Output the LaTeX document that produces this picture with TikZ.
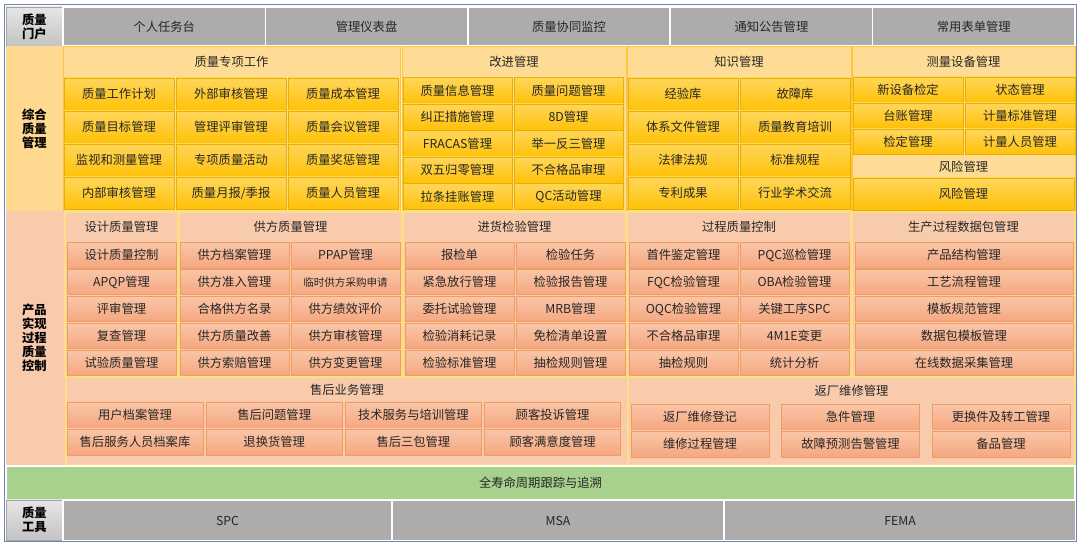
\documentclass[tikz,border=0pt]{standalone}
\usepackage{fontspec}
\newfontfamily\cjk{Noto Sans CJK SC}

\definecolor{portalgrey}{HTML}{AEABAB}
\definecolor{lgtop}{HTML}{E6E6E6}
\definecolor{lgbot}{HTML}{C3C3C3}
\definecolor{lgline}{HTML}{A6A6A6}
\definecolor{ylwbg}{HTML}{FFEFC8}
\definecolor{ylwlbl}{HTML}{FFD98F}
\definecolor{ylwhead}{HTML}{FFDC96}
\definecolor{ylwedge}{HTML}{FFC43A}
\definecolor{ylwtop}{HTML}{FFD65A}
\definecolor{ylwbot}{HTML}{FFC107}
\definecolor{ylwline}{HTML}{E9B000}
\definecolor{pchbg}{HTML}{F8CBAD}
\definecolor{pchedge}{HTML}{FFDF86}
\definecolor{pchtop}{HTML}{F9C6A8}
\definecolor{pchbot}{HTML}{F5A780}
\definecolor{pchline}{HTML}{F39B63}
\definecolor{tracegreen}{HTML}{A9D18E}
\definecolor{txt}{HTML}{262626}
\definecolor{framec}{HTML}{6D85B4}

% one box from its corners (x1,y1) to (x2,y2), in pixels
\newcommand\cell[7][box]{%
  \node[#1, minimum width={((#5)-(#3))*0.02cm}, minimum height={((#6)-(#4))*0.02cm}]
    (#2) at ({((#3)+(#5))/2},{((#4)+(#6))/2}) {#7};}

\begin{document}
\begin{tikzpicture}[x=0.02cm, y=-0.02cm,
    box/.style={inner sep=0pt, outer sep=0pt, align=center, text=txt,
      font=\cjk\fontsize{7}{8.4}\selectfont},
    lbl/.style={box, text=black, font=\cjk\bfseries\fontsize{7}{8}\selectfont},
    lblgrey/.style={lbl, top color=lgtop, bottom color=lgbot, draw=lgline, line width=0.4pt},
    lblylw/.style={lbl, fill=ylwlbl},
    lblpch/.style={lbl, fill=pchbg},
    portal/.style={box, fill=portalgrey, draw=white, line width=1pt},
    grpy/.style={box, fill=ylwhead, draw=ylwedge, line width=0.5pt},
    hdry/.style={box, fill=ylwhead},
    ylw/.style={box, top color=ylwtop, bottom color=ylwbot, draw=ylwline, line width=0.4pt},
    grpp/.style={box, fill=pchbg, draw=pchedge, line width=0.6pt},
    hdrp/.style={box},
    pch/.style={box, top color=pchtop, bottom color=pchbot, draw=pchline, line width=0.5pt},
    trace/.style={box, fill=tracegreen, draw=white, line width=0.6pt},
    frame/.style={draw=framec, line width=0.7pt}]
  \useasboundingbox (0,0) rectangle (1080,546);

  % 质量门户
  \cell[lblgrey]{portal}{6}{7}{63}{46}{质量\\门户}
  \foreach \t [count=\i from 0] in {个人任务台,管理仪表盘,质量协同监控,通知公告管理,常用表单管理}{
    \cell[portal]{p\i}{63+202.4*\i}{7}{63+202.4*(\i+1)}{46}{\t}}

  % 综合质量管理
  \fill[ylwbg] (6,46) rectangle (1075,211);
  \cell[lblylw]{zh}{6}{46}{63}{211}{综合\\质量\\管理}

  \cell[grpy]{zx}{63}{46}{400}{211}{}
  \cell[hdry]{zxh}{64}{47}{399}{77}{质量专项工作}
  \foreach \t [count=\i from 0] in {质量工作计划,外部审核管理,质量成本管理,
      质量目标管理,管理评审管理,质量会议管理,监视和测量管理,专项质量活动,质量奖惩管理,
      内部审核管理,{质量月报/季报},质量人员管理}{
    \pgfmathtruncatemacro\ci{mod(\i,3)}\pgfmathtruncatemacro\ri{\i/3}
    \cell[ylw]{zx\i}{64+112*\ci}{78+33*\ri}{174+112*\ci}{110.5+33*\ri}{\t}}

  \cell[grpy]{gj}{402}{46}{626}{211}{}
  \cell[hdry]{gjh}{403}{47}{625}{77}{改进管理}
  \foreach \t [count=\i from 0] in {质量信息管理,质量问题管理,纠正措施管理,8D管理,
      FRACAS管理,举一反三管理,双五归零管理,不合格品审理,拉条挂账管理,QC活动管理}{
    \pgfmathtruncatemacro\ci{mod(\i,2)}\pgfmathtruncatemacro\ri{\i/2}
    \cell[ylw]{gj\i}{403+111*\ci}{77.5+26.5*\ri}{512+111*\ci}{103.5+26.5*\ri}{\t}}

  \cell[grpy]{zs}{627}{46}{851}{211}{}
  \cell[hdry]{zsh}{628}{47}{850}{77}{知识管理}
  \foreach \t [count=\i from 0] in {经验库,故障库,体系文件管理,质量教育培训,
      法律法规,标准规程,专利成果,行业学术交流}{
    \pgfmathtruncatemacro\ci{mod(\i,2)}\pgfmathtruncatemacro\ri{\i/2}
    \cell[ylw]{zs\i}{628+112*\ci}{78+33*\ri}{738+112*\ci}{110.5+33*\ri}{\t}}

  \cell[grpy]{cl}{852}{46}{1075}{211}{}
  \cell[hdry]{clh}{853}{47}{1074}{77}{测量设备管理}
  \foreach \t [count=\i from 0] in {新设备检定,状态管理,台账管理,计量标准管理,检定管理,计量人员管理}{
    \pgfmathtruncatemacro\ci{mod(\i,2)}\pgfmathtruncatemacro\ri{\i/2}
    \cell[ylw]{cl\i}{853+112*\ci}{77+26*\ri}{963+112*\ci}{102.5+26*\ri}{\t}}
  \cell[hdry]{fxh}{853}{155}{1074}{178}{风险管理}
  \cell[ylw]{fx}{853}{178}{1074}{210}{风险管理}

  % 产品实现过程质量控制
  \fill[pchbg] (6,211) rectangle (1075,465);
  \cell[lblpch]{cp}{6}{211}{63}{465}{产品\\实现\\过程\\质量\\控制}

  \cell[grpp]{sj}{65}{212}{178}{377}{}
  \cell[hdrp]{sjh}{65}{212}{178}{242}{设计质量管理}
  \foreach \t [count=\i from 0] in {设计质量控制,APQP管理,评审管理,复查管理,试验质量管理}{
    \cell[pch]{sj\i}{67}{242.5+26.9*\i}{176}{268+26.9*\i}{\t}}

  \cell[grpp]{gf}{179}{212}{402}{377}{}
  \cell[hdrp]{gfh}{179}{212}{402}{242}{供方质量管理}
  \foreach \t [count=\i from 0] in {供方档案管理,PPAP管理,供方准入管理,
      {\fontsize{6}{7}\selectfont 临时供方采购申请},合格供方名录,供方绩效评价,
      供方质量改善,供方审核管理,供方索赔管理,供方变更管理}{
    \pgfmathtruncatemacro\ci{mod(\i,2)}\pgfmathtruncatemacro\ri{\i/2}
    \cell[pch]{gf\i}{180+111*\ci}{242.5+26.9*\ri}{289+111*\ci}{268+26.9*\ri}{\t}}

  \cell[grpp]{jh}{403}{212}{626}{377}{}
  \cell[hdrp]{jhh}{403}{212}{626}{242}{进货检验管理}
  \foreach \t [count=\i from 0] in {报检单,检验任务,紧急放行管理,检验报告管理,
      委托试验管理,MRB管理,检验消耗记录,免检清单设置,检验标准管理,抽检规则管理}{
    \pgfmathtruncatemacro\ci{mod(\i,2)}\pgfmathtruncatemacro\ri{\i/2}
    \cell[pch]{jh\i}{405+111*\ci}{242.5+26.9*\ri}{514+111*\ci}{268+26.9*\ri}{\t}}

  \cell[grpp]{gc}{627}{212}{851}{377}{}
  \cell[hdrp]{gch}{627}{212}{851}{242}{过程质量控制}
  \foreach \t [count=\i from 0] in {首件鉴定管理,PQC巡检管理,FQC检验管理,OBA检验管理,
      OQC检验管理,关键工序SPC,不合格品审理,4M1E变更,抽检规则,统计分析}{
    \pgfmathtruncatemacro\ci{mod(\i,2)}\pgfmathtruncatemacro\ri{\i/2}
    \cell[pch]{gc\i}{629+111*\ci}{242.5+26.9*\ri}{738+111*\ci}{268+26.9*\ri}{\t}}

  \cell[grpp]{sc}{852}{212}{1075}{377}{}
  \cell[hdrp]{sch}{852}{212}{1075}{242}{生产过程数据包管理}
  \foreach \t [count=\i from 0] in {产品结构管理,工艺流程管理,模板规范管理,数据包模板管理,在线数据采集管理}{
    \cell[pch]{sc\i}{855}{242.5+26.9*\i}{1073}{268+26.9*\i}{\t}}

  \cell[grpp]{sh}{66}{377}{628}{465}{}
  \cell[hdrp]{shh}{66}{378}{628}{402}{售后业务管理}
  \foreach \t [count=\i from 0] in {用户档案管理,售后问题管理,技术服务与培训管理,顾客投诉管理,
      售后服务人员档案库,退换货管理,售后三包管理,顾客满意度管理}{
    \pgfmathtruncatemacro\ci{mod(\i,4)}\pgfmathtruncatemacro\ri{\i/4}
    \cell[pch]{sh\i}{67+139.2*\ci}{402+27*\ri}{203+139.2*\ci}{428+27*\ri}{\t}}

  \cell[grpp]{fc}{628}{377}{1075}{465}{}
  \cell[hdrp]{fch}{628}{378}{1075}{403}{返厂维修管理}
  \foreach \t [count=\i from 0] in {返厂维修登记,急件管理,更换件及转工管理,
      维修过程管理,故障预测告警管理,备品管理}{
    \pgfmathtruncatemacro\ci{mod(\i,3)}\pgfmathtruncatemacro\ri{\i/3}
    \cell[pch]{fc\i}{631+150.5*\ci}{404+27*\ri}{769+150.5*\ci}{430+27*\ri}{\t}}

  % 全寿命周期跟踪与追溯
  \cell[trace]{trace}{6}{466}{1075}{500}{全寿命周期跟踪与追溯}

  % 质量工具
  \cell[lblgrey]{tools}{6}{500}{63}{540}{质量\\工具}
  \cell[portal]{spc}{63}{500}{392}{541}{SPC}
  \cell[portal]{msa}{392}{500}{724}{541}{MSA}
  \cell[portal]{fema}{724}{500}{1076}{541}{FEMA}

  \draw[frame] (4.5,4.5) rectangle (1076.5,541.5);
\end{tikzpicture}
\end{document}
